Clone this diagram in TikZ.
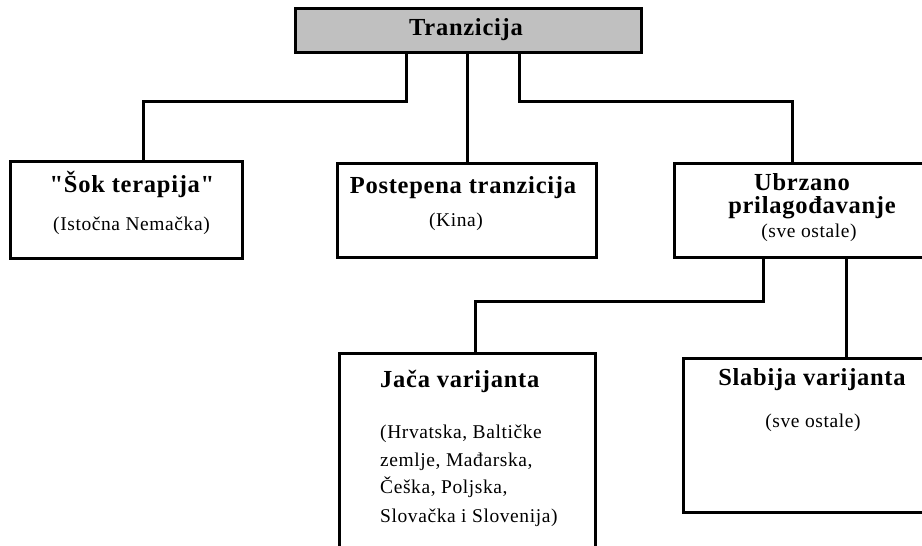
\documentclass[tikz,border=0pt]{standalone}
\usepackage{fontspec}
\setmainfont{Liberation Serif}[LetterSpace=3, Ligatures=TeXOff]
\definecolor{headgray}{HTML}{C0C0C0}
\tikzset{
  box/.style={draw=black, line width=3pt, fill=white, inner sep=0pt},
  conn/.style={draw=black, line width=3pt},
  title/.style={font=\bfseries\fontsize{24.5}{29}\selectfont, inner sep=0pt, anchor=base},
  note/.style={font=\fontsize{19.5}{27}\selectfont, inner sep=0pt, anchor=base},
}
\begin{document}
\begin{tikzpicture}[x=1pt,y=-1pt]
\useasboundingbox (0,0) rectangle (922,546);
\clip (0,0) rectangle (922,546);

% boxes
\node[box, fill=headgray, minimum width=346pt, minimum height=44pt] (top) at (468,30) {};
\node[box, minimum width=232pt, minimum height=97pt] (b1) at (126,209.5) {};
\node[box, minimum width=259pt, minimum height=94pt] (b2) at (467,210) {};
\node[box, minimum width=272pt, minimum height=94pt] (b3) at (810,210) {};
\node[box, minimum width=256pt, minimum height=195pt] (b4) at (467,450.5) {};
\node[box, minimum width=258pt, minimum height=154pt] (b5) at (812,435) {};

% junction columns and rails
\coordinate (xa) at (406,0);
\coordinate (xb) at (519,0);
\coordinate (xc) at (143,0);
\coordinate (xd) at (792,0);
\coordinate (xe) at (763,0);
\coordinate (xf) at (475,0);
\coordinate (xg) at (846,0);
\coordinate (r1) at (0,101);
\coordinate (r2) at (0,301);

% connectors
\draw[conn] (top.south -| xa) -- (r1 -| xa) -- (r1 -| xc) -- (b1.north -| xc);
\draw[conn] (top.south -| b2.north) -- (b2.north);
\draw[conn] (top.south -| xb) -- (r1 -| xb) -- (r1 -| xd) -- (b3.north -| xd);
\draw[conn] (b3.south -| xe) -- (r2 -| xe) -- (r2 -| xf) -- (b4.north -| xf);
\draw[conn] (b3.south -| xg) -- (b5.north -| xg);

% labels
\node[title] (t0) at (466,35) {Tranzicija};

\node[title] (t1) at (132,192) {"Šok terapija"};
\node[note] (n1) at (131.5,230) {(Istočna Nemačka)};

\node[title] (t2) at (463,193) {Postepena tranzicija};
\node[note] (n2) at (456,226) {(Kina)};

\node[title] (t3a) at (802,190) {Ubrzano};
\node[title] (t3b) at (812,213) {prilagođavanje};
\node[note] (n3) at (809,237) {(sve ostale)};

\node[title, anchor=base west] (t4) at (380,387) {Jača varijanta};
\node[note, anchor=base west] (n4a) at (380,438) {(Hrvatska, Baltičke};
\node[note, anchor=base west] (n4b) at (380,466) {zemlje, Mađarska,};
\node[note, anchor=base west] (n4c) at (380,493) {Češka, Poljska,};
\node[note, anchor=base west] (n4d) at (380,522) {Slovačka i Slovenija)};

\node[title] (t5) at (812,385) {Slabija varijanta};
\node[note] (n5) at (813,427) {(sve ostale)};
\end{tikzpicture}
\end{document}
